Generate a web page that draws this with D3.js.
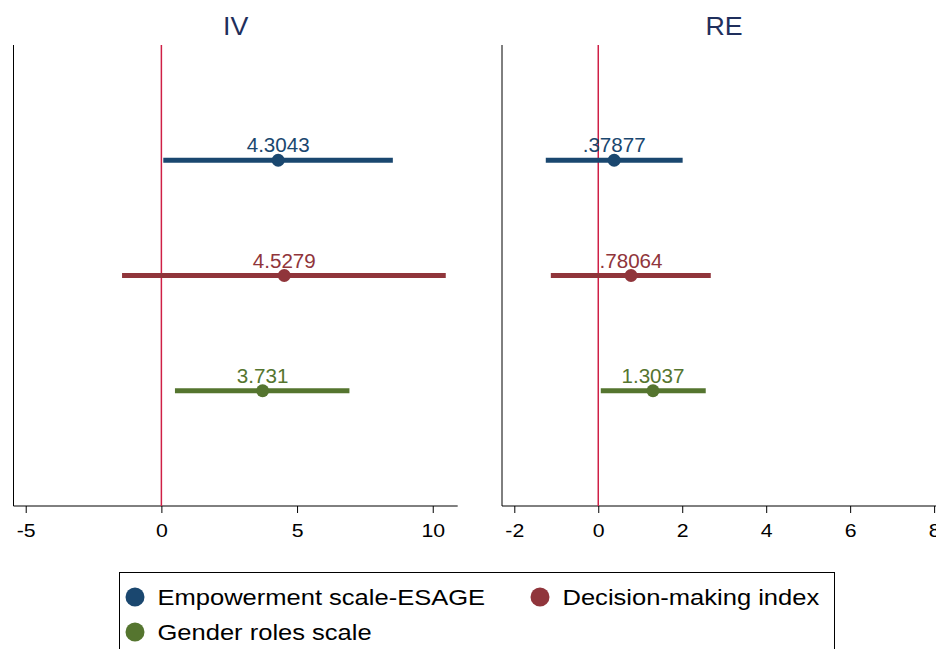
<!DOCTYPE html>
<html>
<head>
<meta charset="utf-8">
<script src="https://cdn.jsdelivr.net/npm/d3@7"></script>
<style>
  html, body { margin: 0; padding: 0; background: #fff; }
  svg { display: block; font-family: "Liberation Sans", Arial, sans-serif; }
</style>
</head>
<body>
<svg id="chart" width="936" height="649"></svg>
<script>
// Outcome measures (rows) and series colours
const categories = ["Empowerment scale-ESAGE", "Decision-making index", "Gender roles scale"];
const colors = ["#1a476f", "#90353b", "#55752f"];

// IV estimates with confidence bounds
const ivEst = [4.3043, 4.5279, 3.731];
const ivLo = [0.07, -1.45, 0.50];
const ivHi = [8.53, 10.48, 6.93];

// RE estimates with confidence bounds
const reEst = [0.37877, 0.78064, 1.3037];
const reLo = [-1.25, -1.13, 0.06];
const reHi = [2.01, 2.68, 2.56];

// Axis tick values per panel
const ivTicks = [-5, 0, 5, 10];
const reTicks = [-2, 0, 2, 4, 6, 8];

const svg = d3.select("#chart");
const plotTop = 45, plotBottom = 506;

// rows sit at positions 1..3 on a 0..4 scale
const y = d3.scaleLinear().domain([0, 4]).range([plotTop, plotBottom]);

const panels = [
  { title: "IV", est: ivEst, lo: ivLo, hi: ivHi, ticks: ivTicks,
    x: d3.scaleLinear().domain([-5.45, 10.92]).range([13.5, 457.7]) },
  { title: "RE", est: reEst, lo: reLo, hi: reHi, ticks: reTicks,
    x: d3.scaleLinear().domain([-2.293, 8.283]).range([502, 946]) }
];

const fmt = v => String(v).replace(/^0\./, ".").replace(/^-0\./, "-.");

panels.forEach(p => {
  const g = svg.append("g");
  const [x0, x1] = p.x.range();

  // panel title
  g.append("text")
    .attr("transform", `translate(${(x0 + x1) / 2},34.5) scale(1.05,1)`)
    .attr("text-anchor", "middle")
    .attr("font-size", 25.5).attr("fill", "#1f2f5c")
    .text(p.title);

  // left axis line
  g.append("line")
    .attr("x1", x0).attr("x2", x0).attr("y1", plotTop).attr("y2", plotBottom)
    .attr("stroke", "#000").attr("stroke-width", 1);

  // x axis
  const axis = d3.axisBottom(p.x).tickValues(p.ticks).tickSize(7).tickPadding(11)
    .tickFormat(d3.format("d"));
  const ag = g.append("g").attr("transform", `translate(0,${plotBottom})`).call(axis);
  ag.select(".domain").attr("d", `M${x0},0H${x1}`).attr("stroke", "#000");
  ag.selectAll(".tick line").attr("stroke", "#000");
  ag.selectAll(".tick text")
    .attr("font-size", 18.5).attr("fill", "#000")
    .attr("font-family", "Liberation Sans, Arial, sans-serif")
    .attr("transform", "scale(1.15,1)")
    .text(d => d < 0 ? "-" + Math.abs(d) : d);

  // reference line at zero
  g.append("line")
    .attr("x1", p.x(0)).attr("x2", p.x(0)).attr("y1", plotTop).attr("y2", plotBottom)
    .attr("stroke", "#cf1f46").attr("stroke-width", 1.5);

  const rows = categories.map((c, i) => ({ i, est: p.est[i], lo: p.lo[i], hi: p.hi[i] }));

  // confidence intervals
  g.selectAll(".ci").data(rows).enter().append("line")
    .attr("x1", d => p.x(d.lo)).attr("x2", d => p.x(d.hi))
    .attr("y1", d => y(d.i + 1)).attr("y2", d => y(d.i + 1))
    .attr("stroke", d => colors[d.i]).attr("stroke-width", 5);

  // point estimates
  g.selectAll(".pt").data(rows).enter().append("circle")
    .attr("cx", d => p.x(d.est)).attr("cy", d => y(d.i + 1)).attr("r", 6.5)
    .attr("fill", d => colors[d.i]);

  // value labels
  g.selectAll(".lbl").data(rows).enter().append("text")
    .attr("transform", d => `translate(${p.x(d.est)},${y(d.i + 1) - 8}) scale(1.03,1)`)
    .attr("text-anchor", "middle").attr("font-size", 20)
    .attr("fill", d => colors[d.i])
    .text(d => fmt(d.est));
});

// legend
const lg = svg.append("g");
lg.append("rect")
  .attr("x", 119.5).attr("y", 572.5).attr("width", 715).attr("height", 90)
  .attr("fill", "#fff").attr("stroke", "#000").attr("stroke-width", 1);
const legendPos = [[135, 597], [540, 597], [135, 632]];
categories.forEach((c, i) => {
  const [lx, ly] = legendPos[i];
  lg.append("circle").attr("cx", lx).attr("cy", ly).attr("r", 9.5).attr("fill", colors[i]);
  lg.append("text")
    .attr("transform", `translate(${lx + 22.5},${ly + 7.5}) scale(1.135,1)`)
    .attr("font-size", 22.5).attr("fill", "#000").text(c);
});
</script>
</body>
</html>
